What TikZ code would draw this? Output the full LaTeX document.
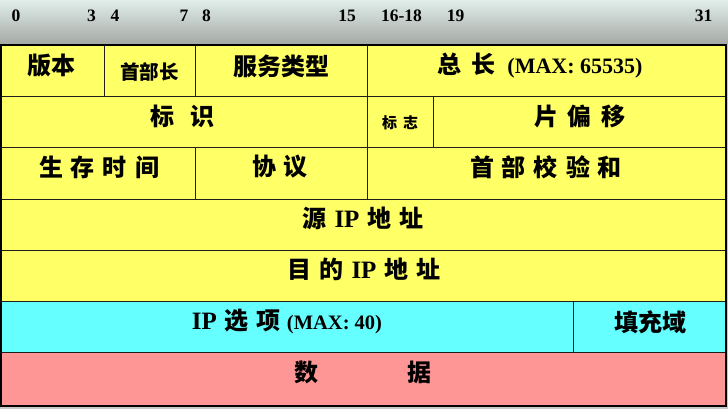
\documentclass[tikz,border=0pt]{standalone}
\usepackage{fontspec}
\setmainfont{Liberation Serif}
\newfontfamily\cjk{Noto Sans CJK SC}
\newcommand\gp{\hspace{8pt}}
\newcommand\lat{\rmfamily\bfseries}
\definecolor{ylw}{RGB}{255,255,102}
\definecolor{cyn}{RGB}{102,255,255}
\definecolor{pnk}{RGB}{255,150,150}
\definecolor{hdtop}{RGB}{224,238,234}
\definecolor{hdbot}{RGB}{165,169,165}
\definecolor{bgg}{RGB}{200,200,196}
\definecolor{lc}{RGB}{30,30,30}
\begin{document}
\begin{tikzpicture}[x=1pt,y=-1pt,
  big/.style={inner sep=0pt,font=\cjk\bfseries\fontsize{24}{24}\selectfont},
  mid/.style={inner sep=0pt,font=\cjk\bfseries\fontsize{19.5}{19.5}\selectfont},
  sml/.style={inner sep=0pt,font=\cjk\bfseries\fontsize{15}{15}\selectfont},
  hdr/.style={inner sep=0pt,font=\lat\fontsize{17.5}{17.5}\selectfont},
  grid/.style={line width=1pt,draw=lc}]
\useasboundingbox (0,0) rectangle (728,409);
\fill[bgg] (0,0) rectangle (728,409);
\shade[top color=hdtop,bottom color=hdbot] (0,0) rectangle (728,44);
% row fills
\fill[ylw] (0,45.5) rectangle (726,301.5);
\fill[cyn] (0,301.5) rectangle (726,352);
\fill[pnk] (0,352) rectangle (726,406);
% grid lines
\foreach \yy in {96.5,147.5,199.3,250.3,301.5,352}
  \draw[grid] (0,\yy) -- (726,\yy);
\draw[grid] (104,45.5) -- (104,96.5);
\draw[grid] (195,45.5) -- (195,96.5);
\draw[grid] (367.5,45.5) -- (367.5,199.3);
\draw[grid] (433,96.5) -- (433,147.5);
\draw[grid] (195,147.5) -- (195,199.3);
\draw[grid] (573.5,301.5) -- (573.5,352);
\draw[line width=2pt,draw=black] (0.8,45.5) rectangle (726,406);
% header bit numbers
\node[hdr] (b0) at (16,16) {0};
\node[hdr] (b3) at (91.5,16) {3};
\node[hdr] (b4) at (115,16) {4};
\node[hdr] (b7) at (184,16) {7};
\node[hdr] (b8) at (206.5,16) {8};
\node[hdr] (b15) at (347,16) {15};
\node[hdr] (b16) at (401.5,16) {16-18};
\node[hdr] (b19) at (455.5,16) {19};
\node[hdr] (b31) at (703.5,16) {31};
% row 1
\node[big] (ver) at (51.5,66) {版本};
\node[mid] (ihl) at (149.5,72) {首部长};
\node[big] (tos) at (281,66) {服务类型};
\node[big] (tl) at (540,66) {总\hspace{10pt}长\hspace{12pt}{\lat\fontsize{22}{22}\selectfont (MAX: 65535)}};
% row 2
\node[big] (id) at (182.5,116.5) {标\hspace{17pt}识};
\node[sml] (flg) at (400,123) {标\hspace{6pt}志};
\node[big] (frag) at (580,116.5) {片\hspace{10pt}偏\hspace{10pt}移};
% row 3
\node[big] (ttl) at (99,167) {生\gp 存\gp 时\gp 间};
\node[big] (proto) at (280,167) {协\gp 议};
\node[big] (cks) at (546,167) {首\gp 部\gp 校\gp 验\gp 和};
% row 4-5
\node[big] (src) at (363,218) {源\gp{\lat\fontsize{25}{25}\selectfont IP}\gp 地\gp 址};
\node[big] (dst) at (364,269) {目\gp 的\gp{\lat\fontsize{25}{25}\selectfont IP}\gp 地\gp 址};
% options
\node[big] (opt) at (287,321) {{\lat\fontsize{25}{25}\selectfont IP}\gp 选\gp 项\hspace{6pt}{\lat\fontsize{20.5}{20.5}\selectfont (MAX: 40)}};
\node[big] (pad) at (650,322) {填充域};
% data
\node[big] (data) at (363,372) {数\hspace{89pt}据};
\end{tikzpicture}
\end{document}
